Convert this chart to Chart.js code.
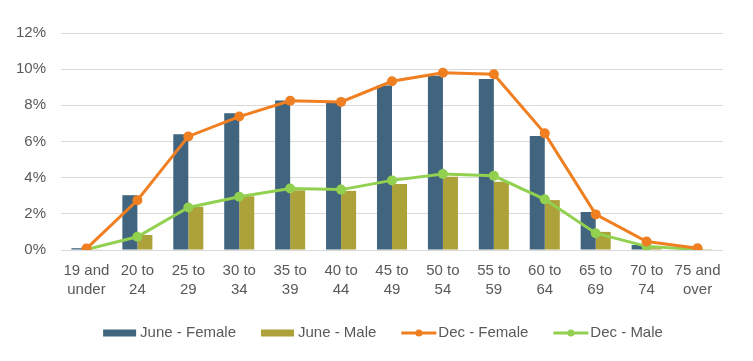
<!DOCTYPE html>
<html>
<head>
<meta charset="utf-8">
<script src="https://cdn.jsdelivr.net/npm/chart.js@4"></script>
<style>
  html, body { margin: 0; padding: 0; background: #fff; }
  #wrap { width: 753px; height: 361px; }
</style>
</head>
<body>
<div id="wrap"><canvas id="chart" width="753" height="361"></canvas></div>
<script>
// ---- data (percent of members) ----
const ageGroups = [
  ['19 and', 'under'], ['20 to', '24'], ['25 to', '29'], ['30 to', '34'],
  ['35 to', '39'], ['40 to', '44'], ['45 to', '49'], ['50 to', '54'],
  ['55 to', '59'], ['60 to', '64'], ['65 to', '69'], ['70 to', '74'],
  ['75 and', 'over']
];
const juneFemale = [0.10, 3.03, 6.40, 7.56, 8.27, 8.17, 9.10, 9.63, 9.45, 6.30, 2.10, 0.28, 0.03];
const juneMale   = [0.02, 0.83, 2.39, 2.97, 3.30, 3.27, 3.65, 4.05, 3.78, 2.76, 1.00, 0.10, 0.01];
const decFemale  = [0.08, 2.75, 6.28, 7.38, 8.25, 8.19, 9.33, 9.80, 9.72, 6.45, 1.97, 0.47, 0.10];
const decMale    = [0.03, 0.73, 2.35, 2.94, 3.40, 3.34, 3.85, 4.20, 4.10, 2.80, 0.93, 0.20, 0.03];
const yTicks = [0, 2, 4, 6, 8, 10, 12];

const FONT = '"Liberation Sans", Arial, sans-serif';
const TEXT = '#595959';

// simple legend drawn under the axis, Excel style
const bottomLegend = {
  id: 'bottomLegend',
  afterDraw(chart) {
    const ctx = chart.ctx;
    const y = 333;
    const boxW = 33, gap = 4, itemGap = 25;
    ctx.save();
    ctx.font = '15px ' + FONT;
    ctx.textBaseline = 'middle';
    const items = chart.data.datasets.map(ds => ({
      label: ds.label, color: ds.borderColor || ds.backgroundColor, line: ds.type === 'line'
    }));
    let total = 0;
    items.forEach((it, i) => {
      it.w = ctx.measureText(it.label).width;
      total += boxW + gap + it.w + (i ? itemGap : 0);
    });
    let x = 383 - total / 2;
    items.forEach(it => {
      if (it.line) {
        ctx.strokeStyle = it.color;
        ctx.lineWidth = 3;
        ctx.beginPath();
        ctx.moveTo(x, y);
        ctx.lineTo(x + boxW + 2, y);
        ctx.stroke();
        ctx.fillStyle = it.color;
        ctx.beginPath();
        ctx.arc(x + boxW / 2 + 1, y, 3.5, 0, Math.PI * 2);
        ctx.fill();
      } else {
        ctx.fillStyle = it.color;
        ctx.fillRect(x, y - 3.5, boxW, 7);
      }
      x += boxW + gap;
      ctx.fillStyle = TEXT;
      ctx.fillText(it.label, x, y);
      x += it.w + itemGap;
    });
    ctx.restore();
  }
};

const lineDefaults = {
  type: 'line',
  borderWidth: 3,
  pointRadius: 5,
  pointHoverRadius: 5,
  pointBorderWidth: 0,
  tension: 0,
  order: 0
};

new Chart(document.getElementById('chart'), {
  type: 'bar',
  data: {
    labels: ageGroups,
    datasets: [
      { label: 'June - Female', data: juneFemale, backgroundColor: '#41657F', order: 1 },
      { label: 'June - Male', data: juneMale, backgroundColor: '#ADA23A', order: 1 },
      Object.assign({ label: 'Dec - Female', data: decFemale, borderColor: '#F07F22', backgroundColor: '#F07F22' }, lineDefaults),
      Object.assign({ label: 'Dec - Male', data: decMale, borderColor: '#92D050', backgroundColor: '#92D050' }, lineDefaults)
    ]
  },
  options: {
    responsive: false,
    animation: false,
    devicePixelRatio: 1,
    layout: { padding: { top: 33, right: 30, left: 0, bottom: 0 } },
    categoryPercentage: 0.59,
    barPercentage: 1,
    plugins: {
      legend: { display: false },
      tooltip: { enabled: false }
    },
    scales: {
      x: {
        grid: { display: false },
        border: { display: false },
        ticks: {
          color: TEXT,
          font: { family: FONT, size: 15, lineHeight: 1.3 },
          padding: 3,
          maxRotation: 0,
          autoSkip: false
        },
        afterFit(scale) { scale.height = 111; }
      },
      y: {
        min: 0,
        max: 12,
        afterBuildTicks(scale) { scale.ticks = yTicks.map(v => ({ value: v })); },
        grid: { color: '#D9D9D9', lineWidth: 1, drawTicks: false },
        border: { display: false },
        ticks: {
          color: TEXT,
          font: { family: FONT, size: 15 },
          padding: 15,
          callback: v => v + '%'
        },
        afterFit(scale) { scale.width = 61; }
      }
    }
  },
  plugins: [bottomLegend]
});
</script>
</body>
</html>
